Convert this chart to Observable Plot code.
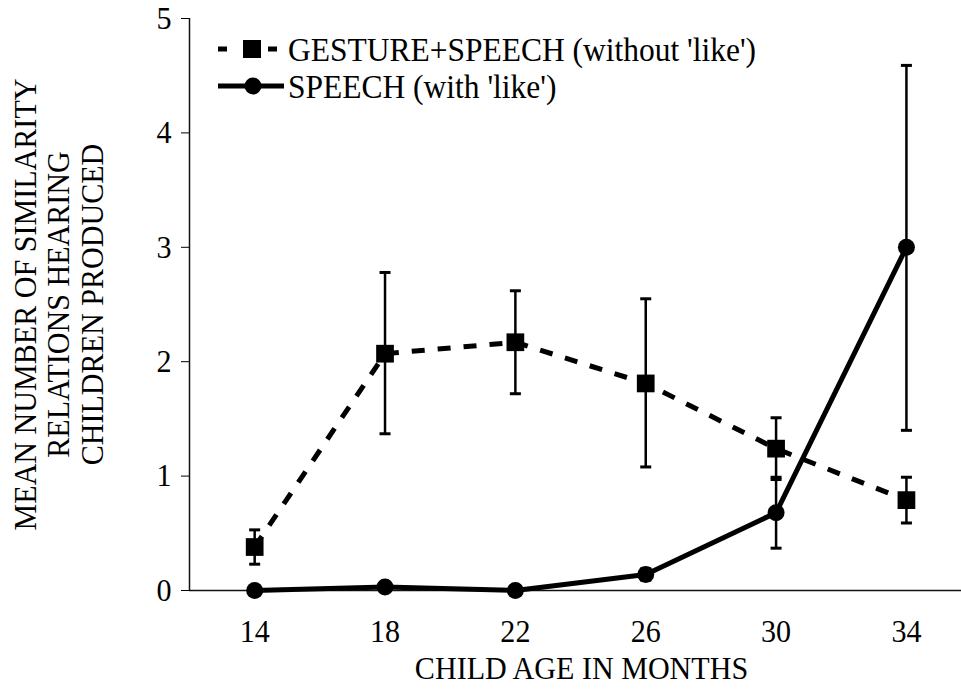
<!DOCTYPE html>
<html><head><meta charset="utf-8">
<script src="https://cdn.jsdelivr.net/npm/d3@7"></script>
<script src="https://cdn.jsdelivr.net/npm/@observablehq/plot@0.6"></script>
<style>body{margin:0;background:#fff}</style>
</head><body><div id="chart"></div>
<script>
const ages = [14, 18, 22, 26, 30, 34];
const gestureMean = [0.38, 2.07, 2.17, 1.81, 1.24, 0.79];
const gestureLow  = [0.23, 1.37, 1.72, 1.08, 0.97, 0.59];
const gestureHigh = [0.53, 2.78, 2.62, 2.55, 1.51, 0.99];
const speechMean = [0.00, 0.03, 0.00, 0.14, 0.68, 3.00];
const speechLow  = [0.00, 0.03, 0.00, 0.09, 0.37, 1.40];
const speechHigh = [0.00, 0.03, 0.00, 0.19, 0.99, 4.59];
const yTicks = [0, 1, 2, 3, 4, 5];
const seriesNames = ["GESTURE+SPEECH (without 'like')", "SPEECH (with 'like')"];
const xTitle = "CHILD AGE IN MONTHS";
const yTitle = ["MEAN NUMBER OF SIMILARITY", "RELATIONS HEARING", "CHILDREN PRODUCED"];

const gesture = ages.map((a, i) => ({age: a, mean: gestureMean[i], low: gestureLow[i], high: gestureHigh[i]}));
const speech = ages.map((a, i) => ({age: a, mean: speechMean[i], low: speechLow[i], high: speechHigh[i]}));
const bars = [...gesture, ...speech].filter(d => d.high > d.low);
const caps = bars.flatMap(d => [{age: d.age, v: d.low}, {age: d.age, v: d.high}]);

const capSymbol = {draw(ctx, size) { const w = Math.sqrt(size / Math.PI); ctx.moveTo(-w, 0); ctx.lineTo(w, 0); }};
const font = "'Liberation Serif', 'Times New Roman', Times, serif";
const squeeze = 0.94;

const chart = Plot.plot({
  width: 961, height: 694,
  marginLeft: 189, marginRight: 0, marginTop: 18, marginBottom: 104,
  style: {fontFamily: font, fontSize: "32px", color: "black", background: "white", overflow: "visible"},
  x: {domain: [12, 35.69], ticks: ages, tickSize: 0, tickPadding: 29, label: null, tickFormat: d3.format("d")},
  y: {domain: [0, 5], ticks: yTicks, tickSize: 8, tickPadding: 10, label: null, tickFormat: d3.format("d")},
  marks: [
    Plot.ruleX([12], {stroke: "#111", strokeWidth: 1.5}),
    Plot.ruleY([0], {stroke: "#111", strokeWidth: 1.5}),
    Plot.line(gesture, {x: "age", y: "mean", stroke: "black", strokeWidth: 5, strokeDasharray: "13,13", strokeLinecap: "butt"}),
    Plot.line(speech, {x: "age", y: "mean", stroke: "black", strokeWidth: 5}),
    Plot.ruleX(bars, {x: "age", y1: "low", y2: "high", stroke: "black", strokeWidth: 2.5}),
    Plot.dot(caps, {x: "age", y: "v", symbol: capSymbol, r: 5.5, stroke: "black", strokeWidth: 3}),
    Plot.dot(gesture, {x: "age", y: "mean", symbol: "square", r: 10, fill: "black", stroke: "none"}),
    Plot.dot(speech, {x: "age", y: "mean", symbol: "circle", r: 8.5, fill: "black", stroke: "none"}),
    Plot.text([xTitle], {text: d => d, frameAnchor: "bottom", dy: 78, dx: 6, fill: "black", lineAnchor: "middle"}),
    Plot.text([yTitle.join("\n")], {text: d => d, frameAnchor: "left", rotate: -90, dx: -131, dy: 0, lineHeight: 1.05, textAnchor: "middle", lineAnchor: "middle", fill: "black"})
  ]
});

// legend (presentation only)
const svg = d3.select(chart);
const lg = svg.append("g").attr("font-family", font).attr("font-size", 33.5).attr("text-anchor", "start");
const rows = [
  {y: 49, dash: "9,16", symbol: "square"},
  {y: 86, dash: null, symbol: "circle"}
];
rows.forEach((r, i) => {
  const line = lg.append("line").attr("x1", 218).attr("x2", 284).attr("y1", r.y).attr("y2", r.y)
    .attr("stroke", "black").attr("stroke-width", 5);
  if (r.dash) line.attr("stroke-dasharray", r.dash);
  if (r.symbol === "square") lg.append("rect").attr("x", 243).attr("y", r.y - 9).attr("width", 18).attr("height", 18).attr("fill", "black");
  else lg.append("circle").attr("cx", 253).attr("cy", r.y).attr("r", 8.5).attr("fill", "black");
  lg.append("text").attr("x", 288).attr("y", r.y).attr("dy", "0.35em").attr("fill", "black").attr("text-anchor", "start").text(seriesNames[i]);
});

// the reference typeface is a narrow Times: condense every text horizontally about its anchor
svg.selectAll("text").each(function() {
  const x = parseFloat(this.getAttribute("x")) || 0;
  let t = this.getAttribute("transform") || "";
  if (x) { t += ` translate(${x},0)`; this.setAttribute("x", 0); }
  this.setAttribute("transform", `${t} scale(${squeeze},1)`.trim());
});

document.getElementById("chart").appendChild(chart);
</script>
</body></html>
